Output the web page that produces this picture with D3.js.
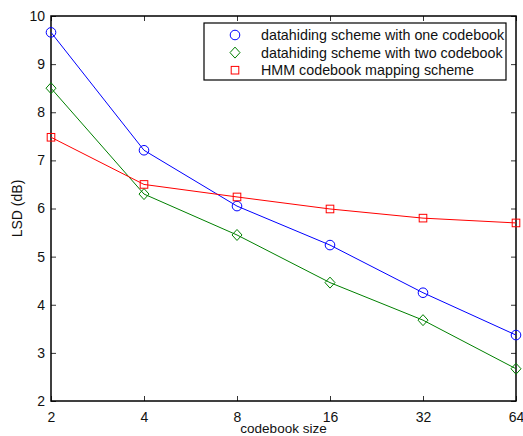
<!DOCTYPE html>
<html>
<head>
<meta charset="utf-8">
<script src="https://cdn.jsdelivr.net/npm/d3@7"></script>
<style>
  body { margin: 0; background: #fff; }
  text { font-family: "Liberation Sans", Arial, sans-serif; }
</style>
</head>
<body>
<div id="chart"></div>
<script>
// codebook sizes (log2 x axis)
const codebookSizes = [2, 4, 8, 16, 32, 64];
const oneCodebook = [9.66, 7.21, 6.05, 5.24, 4.25, 3.37];
const twoCodebook = [8.50, 6.30, 5.45, 4.46, 3.68, 2.67];
const hmmMapping = [7.48, 6.50, 6.24, 5.99, 5.80, 5.70];
const yTicks = [2, 3, 4, 5, 6, 7, 8, 9, 10];

const seriesList = [
  { name: "datahiding scheme with one codebook", values: oneCodebook, color: "#0000ff", marker: "circle" },
  { name: "datahiding scheme with two codebook", values: twoCodebook, color: "#008000", marker: "diamond" },
  { name: "HMM codebook mapping scheme", values: hmmMapping, color: "#ff0000", marker: "square" },
];

const width = 523, height = 436;
const margin = { top: 16, right: 7, bottom: 35, left: 51 };
const innerW = width - margin.left - margin.right;
const innerH = height - margin.top - margin.bottom;

const svg = d3.select("#chart").append("svg")
  .attr("width", width).attr("height", height);

const g = svg.append("g").attr("transform", `translate(${margin.left},${margin.top})`);

const x = d3.scaleLog().base(2).domain([2, 64]).range([0, innerW]);
const y = d3.scaleLinear().domain([2, 10]).range([innerH, 0]);

// axes with inward ticks
const tickLen = 5;
g.append("g").attr("transform", `translate(0,${innerH})`)
  .call(d3.axisBottom(x).tickValues(codebookSizes).tickFormat(d3.format("d")).tickSizeInner(-tickLen).tickSizeOuter(0).tickPadding(11))
  .call(a => a.select(".domain").remove());
g.append("g")
  .call(d3.axisTop(x).tickValues(codebookSizes).tickFormat("").tickSizeInner(-tickLen).tickSizeOuter(0))
  .call(a => a.select(".domain").remove());
g.append("g")
  .call(d3.axisLeft(y).tickValues(yTicks).tickFormat(d3.format("d")).tickSizeInner(-tickLen).tickSizeOuter(0).tickPadding(6))
  .call(a => a.select(".domain").remove());
g.append("g").attr("transform", `translate(${innerW},0)`)
  .call(d3.axisRight(y).tickValues(yTicks).tickFormat("").tickSizeInner(-tickLen).tickSizeOuter(0))
  .call(a => a.select(".domain").remove());

g.selectAll(".tick line").attr("stroke", "#333");
g.selectAll(".tick text").attr("font-size", 14).attr("fill", "#111")
  .style("font-family", "'Liberation Sans', Arial, sans-serif");

// plot frame
g.append("rect").attr("width", innerW).attr("height", innerH)
  .attr("fill", "none").attr("stroke", "#000").attr("stroke-width", 1.5);

const line = d3.line().x((d, i) => x(codebookSizes[i])).y(d => y(d));

function drawMarker(sel, type, color) {
  if (type === "circle") {
    sel.append("circle").attr("r", 4.8);
  } else if (type === "diamond") {
    sel.append("path").attr("d", "M0,-5.5L5,0L0,5.5L-5,0Z");
  } else {
    sel.append("rect").attr("x", -3.8).attr("y", -3.8).attr("width", 7.6).attr("height", 7.6);
  }
  sel.selectAll("*").attr("fill", "none").attr("stroke", color).attr("stroke-width", 1);
}

seriesList.forEach(s => {
  g.append("path").datum(s.values)
    .attr("d", line).attr("fill", "none")
    .attr("stroke", s.color).attr("stroke-width", 1);
  s.values.forEach((v, i) => {
    const m = g.append("g").attr("transform", `translate(${x(codebookSizes[i])},${y(v)})`);
    drawMarker(m, s.marker, s.color);
  });
});

// legend
const legend = svg.append("g").attr("transform", "translate(204,23)");
legend.append("rect").attr("width", 302).attr("height", 57)
  .attr("fill", "#fff").attr("stroke", "#000").attr("stroke-width", 1.2);
seriesList.forEach((s, i) => {
  const row = legend.append("g").attr("transform", `translate(0,${12 + i * 17.6})`);
  const m = row.append("g").attr("transform", "translate(31,0)");
  drawMarker(m, s.marker, s.color);
  row.append("text").attr("x", 57).attr("y", 0).attr("dy", "0.35em")
    .attr("font-size", 14.3).attr("fill", "#111").text(s.name);
});

// axis titles
svg.append("text").attr("x", margin.left + innerW / 2).attr("y", 433)
  .attr("text-anchor", "middle").attr("font-size", 13.5).attr("fill", "#111")
  .text("codebook size");
svg.append("text")
  .attr("transform", `translate(22,${margin.top + innerH / 2}) rotate(-90)`)
  .attr("text-anchor", "middle").attr("font-size", 14).attr("fill", "#111")
  .text("LSD (dB)");
</script>
</body>
</html>
